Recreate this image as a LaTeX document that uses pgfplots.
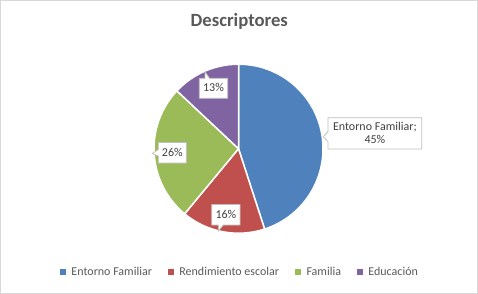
\documentclass[border=0pt]{standalone}
\usepackage{pgfplots}
\usepackage{pgfplotstable}
\pgfplotsset{compat=1.18}
\usepackage{fontspec}
\setmainfont{Carlito}
\definecolor{cA}{HTML}{4F81BD}
\definecolor{cB}{HTML}{C0504D}
\definecolor{cC}{HTML}{9BBB59}
\definecolor{cD}{HTML}{8064A2}
\definecolor{titlegray}{HTML}{595959}
\definecolor{labgray}{HTML}{404040}
\definecolor{boxgray}{HTML}{BFBFBF}
\definecolor{framegray}{HTML}{D9D9D9}
\pgfplotstableread{
cat value
EntornoFamiliar 45
RendimientoEscolar 16
Familia 26
Educacion 13
}\piedata
\begin{document}
\begin{tikzpicture}
\pgfplotstablegetelem{0}{value}\of\piedata \let\vA\pgfplotsretval
\pgfplotstablegetelem{1}{value}\of\piedata \let\vB\pgfplotsretval
\pgfplotstablegetelem{2}{value}\of\piedata \let\vC\pgfplotsretval
\pgfplotstablegetelem{3}{value}\of\piedata \let\vD\pgfplotsretval
\pgfmathsetmacro\aS{90}
\pgfmathsetmacro\aA{\aS-3.6*\vA}
\pgfmathsetmacro\aB{\aA-3.6*\vB}
\pgfmathsetmacro\aC{\aB-3.6*\vC}
\pgfmathsetmacro\aD{\aC-3.6*\vD}
\begin{axis}[
  width=478bp, height=294bp, scale only axis,
  xmin=0, xmax=478, ymin=0, ymax=294, y dir=reverse,
  hide axis, clip=false,
  legend columns=4,
  legend style={at={(axis cs:240,272)}, anchor=center, draw=none, fill=none,
    font=\fontsize{12bp}{14bp}\selectfont, text=titlegray,
    /tikz/every even column/.append style={column sep=14bp},
    legend cell align=left, inner sep=0pt},
]
% frame
\draw[framegray, line width=1bp] (axis cs:0.5,0.5) rectangle (axis cs:477.5,293.5);
% title
\node[anchor=base, text=titlegray, font=\fontsize{18.67bp}{22bp}\selectfont\bfseries] at (axis cs:239.3,26.7) {Descriptores};
% pie sectors
\filldraw[fill=cA, draw=white, line width=1.5bp, line join=round] (axis cs:238.5,148.7) -- ++(\aS:84.5bp) arc[start angle=\aS, end angle=\aA, radius=84.5bp] -- cycle;
\filldraw[fill=cB, draw=white, line width=1.5bp, line join=round] (axis cs:238.5,148.7) -- ++(\aA:84.5bp) arc[start angle=\aA, end angle=\aB, radius=84.5bp] -- cycle;
\filldraw[fill=cC, draw=white, line width=1.5bp, line join=round] (axis cs:238.5,148.7) -- ++(\aB:84.5bp) arc[start angle=\aB, end angle=\aC, radius=84.5bp] -- cycle;
\filldraw[fill=cD, draw=white, line width=1.5bp, line join=round] (axis cs:238.5,148.7) -- ++(\aC:84.5bp) arc[start angle=\aC, end angle=\aD, radius=84.5bp] -- cycle;
% callouts
\filldraw[fill=white, draw=boxgray, line width=0.75bp] (axis cs:328,117.7) -- (axis cs:421.7,117.7) -- (axis cs:421.7,149) -- (axis cs:328,149) -- (axis cs:328,141.7) -- (axis cs:323.3,136.5) -- (axis cs:328,131.7) -- cycle;
\node[anchor=base, text=labgray, font=\fontsize{12bp}{14bp}\selectfont, inner sep=0pt] at (axis cs:374.9,130) {Entorno Familiar;};
\node[anchor=base, text=labgray, font=\fontsize{12bp}{14bp}\selectfont, inner sep=0pt] at (axis cs:374.9,143.3) {\vA\%};
\filldraw[fill=white, draw=boxgray, line width=0.75bp] (axis cs:199.3,78.3) -- (axis cs:205,78.3) -- (axis cs:205,71.7) -- (axis cs:209.5,78.3) -- (axis cs:227.7,78.3) -- (axis cs:227.7,98.3) -- (axis cs:199.3,98.3) -- cycle;
\node[anchor=base, text=labgray, font=\fontsize{12bp}{14bp}\selectfont, inner sep=0pt] at (axis cs:213.5,91.7) {\vD\%};
\filldraw[fill=white, draw=boxgray, line width=0.75bp] (axis cs:158.3,142.5) -- (axis cs:186.5,142.5) -- (axis cs:186.5,163) -- (axis cs:158.3,163) -- (axis cs:158.3,156) -- (axis cs:152.3,153.5) -- (axis cs:158.3,149.5) -- cycle;
\node[anchor=base, text=labgray, font=\fontsize{12bp}{14bp}\selectfont, inner sep=0pt] at (axis cs:172.3,156.7) {\vC\%};
\filldraw[fill=white, draw=boxgray, line width=0.75bp] (axis cs:211.7,204.5) -- (axis cs:240,204.5) -- (axis cs:240,225) -- (axis cs:223.3,225) -- (axis cs:218.3,231) -- (axis cs:218.3,225) -- (axis cs:211.7,225) -- cycle;
\node[anchor=base, text=labgray, font=\fontsize{12bp}{14bp}\selectfont, inner sep=0pt] at (axis cs:225.9,218.3) {\vB\%};
% legend
\addlegendimage{legend image code/.code={\fill[cA] (0bp,-2.4bp) rectangle (4.8bp,2.4bp); \path (9bp,0bp);}}
\addlegendentry{Entorno Familiar}
\addlegendimage{legend image code/.code={\fill[cB] (0bp,-2.4bp) rectangle (4.8bp,2.4bp); \path (9bp,0bp);}}
\addlegendentry{Rendimiento escolar}
\addlegendimage{legend image code/.code={\fill[cC] (0bp,-2.4bp) rectangle (4.8bp,2.4bp); \path (9bp,0bp);}}
\addlegendentry{Familia}
\addlegendimage{legend image code/.code={\fill[cD] (0bp,-2.4bp) rectangle (4.8bp,2.4bp); \path (9bp,0bp);}}
\addlegendentry{Educación}
\end{axis}
\end{tikzpicture}
\end{document}
